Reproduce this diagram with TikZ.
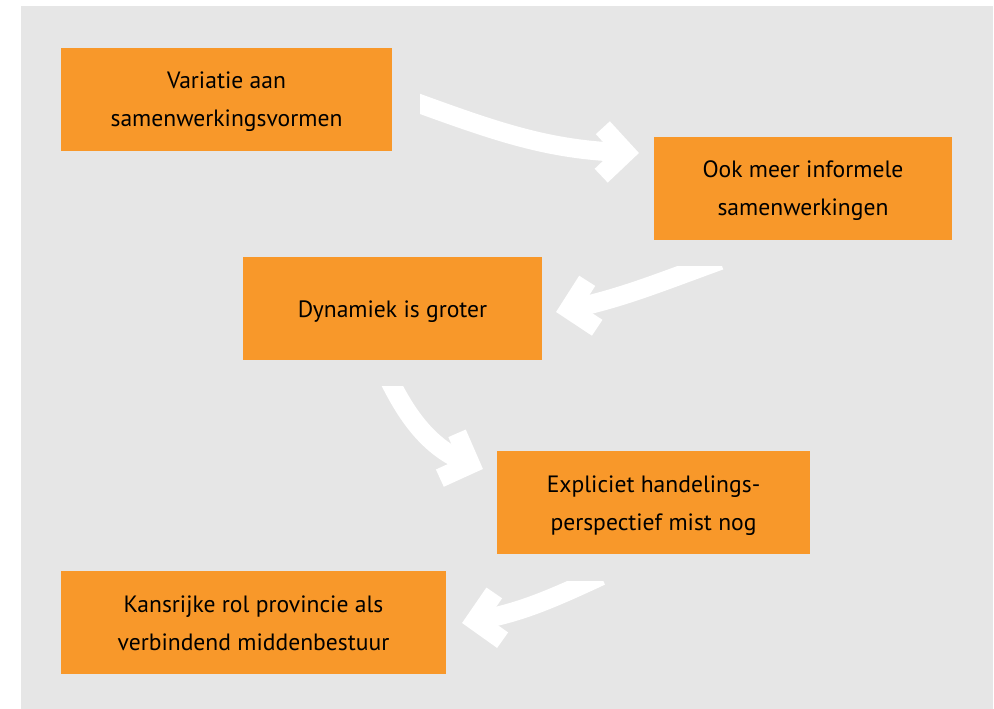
\documentclass[tikz,border=0pt]{standalone}
\usepackage{fontspec}
\setmainfont{PT Sans}
\usetikzlibrary{decorations.markings}
\definecolor{boxorange}{RGB}{248,152,42}
\definecolor{bggray}{RGB}{230,230,230}
\begin{document}
\begin{tikzpicture}[x=1pt,y=1pt,
  box/.style={fill=boxorange, inner sep=0pt, minimum height=103pt, text depth=0pt, align=center, font=\fontsize{23.6}{38}\selectfont},
  flow/.style={white, line width=19pt, shorten >=16pt,
    postaction={decorate, decoration={markings, mark=at position 1 with {\draw[white, line width=19pt, shorten >=0pt] (-37,24) -- (-13.4,0) -- (-37,-24);}}}}]
\useasboundingbox (0,0) rectangle (994,709);
\fill[bggray] (21,0) rectangle (993,703);
% boxes
\node[box, minimum width=331pt] (vorm) at (226.5,609.5) {Variatie aan\\samenwerkingsvormen};
\node[box, minimum width=298pt] (informeel) at (803,520.5) {Ook meer informele\\samenwerkingen};
\node[box, minimum width=299pt] (dynamiek) at (392.5,400) {Dynamiek is groter};
\node[box, minimum width=313pt] (handeling) at (653.5,206) {Expliciet handelings-\\perspectief mist nog};
\node[box, minimum width=385pt] (rol) at (253.5,86) {Kansrijke rol provincie als\\verbindend middenbestuur};
% arrow ends
\coordinate (a1s) at (412,608);
\coordinate (a1e) at (639,556);
\coordinate (a2s) at (720,448.5);
\coordinate (a2e) at (556,397);
\coordinate (a3s) at (386,336);
\coordinate (a3e) at (483,240);
\coordinate (a4s) at (601,133);
\coordinate (a4e) at (462,86);
% arrows
\begin{scope}
\clip (420,0) rectangle (994,709);
\draw[flow] (a1s) to[out=-20,in=178] (a1e);
\end{scope}
\begin{scope}
\clip (0,0) rectangle (994,442);
\draw[flow] (a2s) to[out=200,in=12] (a2e);
\end{scope}
\begin{scope}
\clip (0,0) rectangle (994,322);
\draw[flow] (a3s) to[out=-65,in=159] (a3e);
\end{scope}
\begin{scope}
\clip (0,0) rectangle (994,127);
\draw[flow] (a4s) to[out=205,in=10] (a4e);
\end{scope}
\end{tikzpicture}
\end{document}
